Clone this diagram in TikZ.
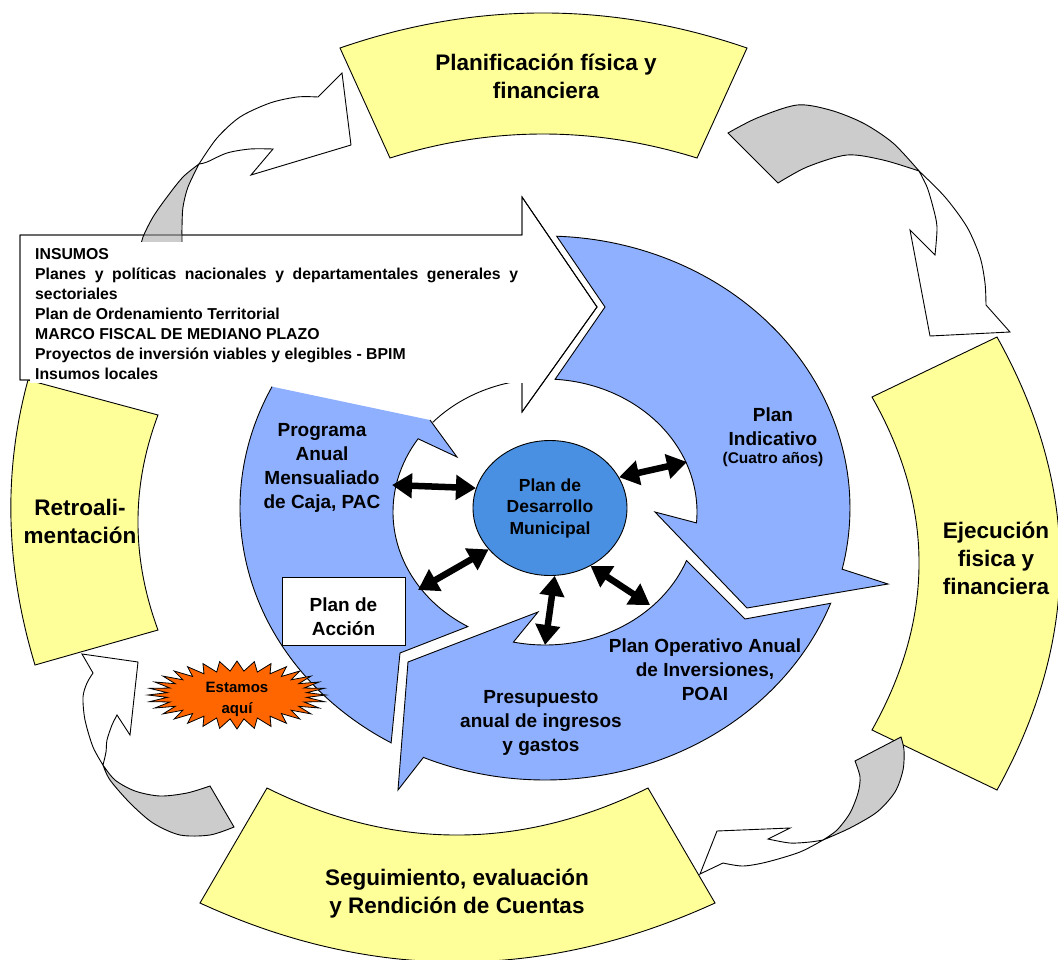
\documentclass[tikz,border=0pt]{standalone}
\usepackage{fontspec}
\setmainfont{Liberation Sans}
\usetikzlibrary{shapes.geometric,arrows.meta}
\definecolor{cycleyellow}{RGB}{255,255,153}
\definecolor{ringblue}{RGB}{143,176,255}
\definecolor{coreblue}{RGB}{74,144,226}
\definecolor{backgray}{RGB}{204,204,204}
\definecolor{burst}{RGB}{255,102,0}

\begin{document}
\begin{tikzpicture}[x=1pt,y=-1pt,
  outline/.style={draw=black, line width=0.9pt},
  yblock/.style={outline, fill=cycleyellow},
  rib/.style={outline, fill=white},
  ribback/.style={outline, fill=backgray},
  biglabel/.style={font=\fontsize{22.5}{28}\selectfont\bfseries, align=center, inner sep=0},
  ringlabel/.style={font=\fontsize{19}{24}\selectfont\bfseries, align=center, inner sep=0},
  insumo/.style={font=\fontsize{15.8}{20}\selectfont\bfseries, anchor=base west, inner sep=0},
  dbl/.style={line width=6.5pt, arrows={Triangle[length=20pt,width=24pt]-Triangle[length=20pt,width=24pt]}}
]
\useasboundingbox (0,0) rectangle (1058,959);

% ---------- outer cycle: four yellow block arcs ----------
\draw[yblock] (340,48) .. controls (475,1.3) and (610.7,1.3) .. (747,48)
  -- (697,158) .. controls (594,126) and (491.7,126) .. (390,158) -- cycle;
\draw[yblock] (997,337) .. controls (1081,487.3) and (1081,638.3) .. (997,790)
  -- (872,730) .. controls (934.7,618.3) and (934.7,507.3) .. (872,397) -- cycle;
\draw[yblock] (267,788) .. controls (393.3,850.7) and (520.3,850.7) .. (648,788)
  -- (715,903) .. controls (542.7,981.7) and (371,981.7) .. (200,903) -- cycle;
\draw[yblock] (158,415) .. controls (131.3,486) and (131.3,557.7) .. (158,630)
  -- (35,665) .. controls (5.3,566.7) and (3,471.7) .. (28,380) -- cycle;

\node[biglabel] (plan) at (546,76) {Planificación física y\\financiera};
\node[biglabel] (ejec) at (996,558) {Ejecución\\fisica y\\financiera};
\node[biglabel] (segu) at (457,893.5) {Seguimiento, evaluación\\y Rendición de Cuentas};
\node[biglabel] (retro) at (80,521) {Retroali-\\mentación};

% ---------- twisted curved arrows between the blocks ----------
% upper right
\filldraw[ribback] (778,183) -- (728,133) -- plot[smooth] coordinates {(728,133) (757,118) (797,105) (830,110) (863,123) (893,143) (919,171)}
  -- plot[smooth] coordinates {(919,171) (883,160) (847,155) (807,167) (778,183)} -- cycle;
\filldraw[rib] (919,171) -- plot[smooth] coordinates {(919,171) (945,197) (967,227) (980,257) (985,283) (986,305)}
  -- (1010,332) -- (930,336) -- (910,230) -- (935,255)
  -- plot[smooth] coordinates {(935,255) (937,227) (933,207) (927,187) (919,171)} -- cycle;
% lower right
\filldraw[ribback] (855,761) -- (901,737) -- plot[smooth] coordinates {(901,737) (904,750) (903,770) (895,792) (877,812) (850,828) (823,840)}
  -- plot[smooth] coordinates {(823,840) (837,830) (850,813) (858,793) (860,777) (855,761)} -- cycle;
\filldraw[rib] (823,840) -- plot[smooth] coordinates {(823,840) (800,852) (767,862) (743,866) (723,863)}
  -- (700,874) -- (717,831) -- (790,828) -- (768,839)
  -- plot[smooth] coordinates {(768,839) (790,843) (810,842) (823,840)} -- cycle;
% lower left
\filldraw[ribback] (210,786) -- (234,827) -- plot[smooth] coordinates {(234,827) (210,835) (180,835) (153,823) (130,803) (110,780) (103,765)}
  -- plot[smooth] coordinates {(103,765) (115,780) (135,791) (160,796) (187,793) (210,786)} -- cycle;
\filldraw[rib] (103,765) -- plot[smooth] coordinates {(103,765) (93,747) (85,720) (83,697) (87,683) (93,673)}
  -- (82,654) -- (138,662) -- (130,735) -- (117,715)
  -- plot[smooth] coordinates {(117,715) (112,725) (107,740) (106,752) (103,765)} -- cycle;

% ---------- inner ring: three notched arrows ----------
\filldraw[outline, fill=ringblue]
  plot[domain=-87.8:13,samples=70] ({545+305*cos(\x)},{508+272*sin(\x)})
  -- (888,584) -- (747,608) -- (655,512)
  -- plot[domain=4.7:-86.2,samples=60] ({545+152*cos(\x)},{512+133*sin(\x)})
  -- (605,307) -- cycle;
\filldraw[outline, fill=ringblue]
  plot[domain=20.5:113.5,samples=70] ({545+305*cos(\x)},{508+272*sin(\x)})
  -- (398,790) -- (408,662) -- (538,612)
  -- plot[domain=102:21.4,samples=60] ({545+152*cos(\x)},{512+133*sin(\x)})
  -- (745,619) -- cycle;
\fill[ringblue]
  plot[domain=120.3:206.5,samples=70] ({545+305*cos(\x)},{508+272*sin(\x)})
  -- (430,420) -- (457,457)
  -- plot[domain=213.4:120.5,samples=60] ({545+152*cos(\x)},{512+133*sin(\x)})
  -- (400,653) -- cycle;
\draw[outline] (430,420) -- (457,457)
  -- plot[domain=213.4:120.5,samples=60] ({545+152*cos(\x)},{512+133*sin(\x)})
  -- (400,653)
  -- plot[domain=120.3:206.5,samples=70] ({545+305*cos(\x)},{508+272*sin(\x)});
\draw[outline] plot[domain=222.4:257,samples=30] ({545+152*cos(\x)},{512+133*sin(\x)});

\node[ringlabel] (indic) at (773,427) {Plan\\Indicativo};
\node[font=\fontsize{15.5}{19}\selectfont\bfseries, inner sep=0] (cuatro) at (773,459.5) {(Cuatro años)};
\node[ringlabel] (poai) at (705,669.5) {Plan Operativo Anual\\de Inversiones,\\POAI};
\node[ringlabel] (presu) at (541,722.5) {Presupuesto\\anual de ingresos\\y gastos};
\node[ringlabel] (pac) at (322,468) {Programa\\Anual\\Mensualiado\\de Caja, PAC};

\node[outline, fill=white, minimum width=123pt, minimum height=68pt, inner sep=0] (accion) at (343.5,611) {};
\node[ringlabel] (accion-txt) at (343.5,617) {Plan de\\Acción};

% ---------- core plan ----------
\node[ellipse, outline, fill=coreblue, minimum width=154pt, minimum height=135pt, inner sep=0,
  font=\fontsize{17.5}{21.5}\selectfont\bfseries, align=center] (pdm) at (550,508) {Plan de\\Desarrollo\\Municipal};

% ---------- inputs arrow ----------
\filldraw[outline, fill=white] (20,235) -- (522,235) -- (522,197) -- (597,307) -- (522,412) -- (522,380) -- (20,380) -- cycle;
% upper left curved arrow, its tail passing behind the inputs text
\filldraw[ribback] (199,164) -- plot[smooth] coordinates {(199,164) (183,177) (167,197) (153,217) (143,237) (140,250)}
  -- (182,250) -- plot[smooth] coordinates {(182,250) (182,240) (182,227) (183,207) (188,187) (199,164)} -- cycle;
\filldraw[rib] (199,164) -- plot[smooth] coordinates {(199,164) (217,138) (240,117) (270,103) (297,97) (318,97)}
  -- (342,73) -- (351,145) -- (251,175) -- (273,149)
  -- plot[smooth] coordinates {(273,149) (250,149) (227,153) (207,162) (199,164)} -- cycle;
\draw[outline] (20,235) -- (522,235) -- (522,197) -- (597,307) -- (522,412) -- (522,380) -- (20,380) -- cycle;
\fill[white] (30,242) rectangle (528,383);

\node[insumo] (ins0) at (35,259) {INSUMOS};
\node[insumo] (ins1) at (35,279) {\makebox[483pt][s]{Planes y políticas nacionales y departamentales generales y}};
\node[insumo] (ins2) at (35,299) {sectoriales};
\node[insumo] (ins3) at (35,319) {Plan de Ordenamiento Territorial};
\node[insumo] (ins4) at (35,339) {MARCO FISCAL DE MEDIANO PLAZO};
\node[insumo] (ins5) at (35,359) {Proyectos de inversión viables y elegibles - BPIM};
\node[insumo] (ins6) at (35,379) {Insumos locales};

% ---------- "you are here" burst ----------
\filldraw[draw=black, line width=0.8pt, fill=burst] ({237+89},695)
  \foreach \i in {0,...,31} {
    -- ({237+89*cos(\i*11.25)},{695+34*sin(\i*11.25)})
    -- ({237+70*cos(\i*11.25+5.625)},{695+24*sin(\i*11.25+5.625)})
  } -- cycle;
\node[font=\fontsize{15}{21}\selectfont\bfseries, align=center, inner sep=0] (aqui) at (237,699) {Estamos\\aquí};

% ---------- two-way links from the core plan ----------
\coordinate (pac-end) at (392,485);
\coordinate (indic-end) at (687,462);
\coordinate (accion-end) at (418,590);
\coordinate (presu-end) at (545,645);
\coordinate (poai-end) at (650,605);
\draw[dbl] (pac-end) -- (pdm.165);
\draw[dbl] (indic-end) -- (pdm.24);
\draw[dbl] (accion-end) -- (pdm.-146.5);
\draw[dbl] (presu-end) -- (pdm.-86);
\draw[dbl] (poai-end) -- (pdm.-55.8);
\end{tikzpicture}
\end{document}
